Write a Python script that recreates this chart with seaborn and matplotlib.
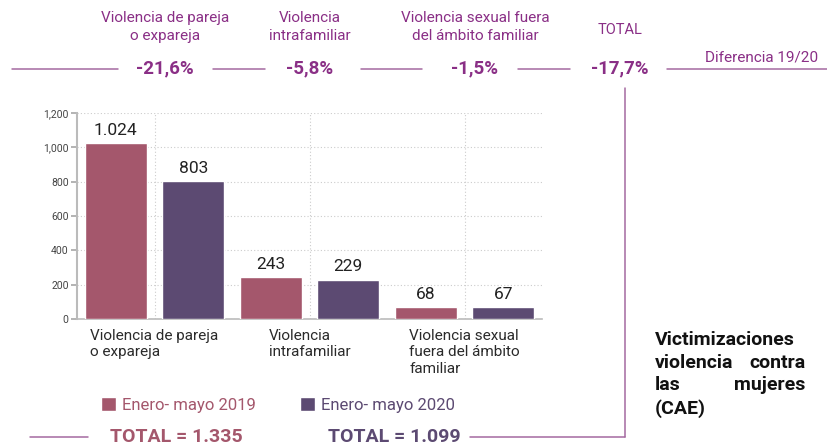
import seaborn as sns
import matplotlib.pyplot as plt
import pandas as pd
from matplotlib.lines import Line2D

# data
categorias = ["Violencia de pareja\no expareja", "Violencia\nintrafamiliar",
              "Violencia sexual\nfuera del ámbito\nfamiliar"]
periodos = ["Enero- mayo 2019", "Enero- mayo 2020"]
valores_2019 = [1024, 243, 68]
valores_2020 = [803, 229, 67]
etiquetas_2019 = ["1.024", "243", "68"]
etiquetas_2020 = ["803", "229", "67"]
cabeceras = ["Violencia de pareja\no expareja", "Violencia\nintrafamiliar",
             "Violencia sexual fuera\ndel ámbito familiar", "TOTAL"]
diferencias = ["-21,6%", "-5,8%", "-1,5%", "-17,7%"]
totales = ["TOTAL = 1.335", "TOTAL = 1.099"]
y_ticks = [0, 200, 400, 600, 800, 1000, 1200]
y_ticklabels = ["0", "200", "400", "600", "800", "1,000", "1,200"]

ROSA = "#a4576c"
MORADO = "#5c4a72"
MAGENTA = "#8a2f86"
LINEA = "#a46aa0"

W, H = 827, 447

sns.set_theme(style="white")
plt.rcParams["font.family"] = ["Roboto", "DejaVu Sans"]

df = pd.DataFrame({
    "categoria": categorias * 2,
    "periodo": [periodos[0]] * 3 + [periodos[1]] * 3,
    "valor": valores_2019 + valores_2020,
})

fig = plt.figure(figsize=(W / 100, H / 100), dpi=100)
ax = fig.add_axes([77 / W, 1 - 319 / H, (542 - 77) / W, (319 - 113) / H])

sns.barplot(data=df, x="categoria", y="valor", hue="periodo",
            palette=[ROSA, MORADO], width=1.0, gap=0.2, ax=ax,
            saturation=1, legend=True, zorder=3)

for cont, labs in zip(ax.containers, [etiquetas_2019, etiquetas_2020]):
    ax.bar_label(cont, labels=labs, padding=4, fontsize=12.5, color="#222222")

ax.set_xlim(-0.5, 2.5)
ax.set_ylim(0, 1200)
ax.set_yticks(y_ticks)
ax.set_yticklabels(y_ticklabels, fontsize=7.5, color="#444444")
ax.set_xlabel("")
ax.set_ylabel("")
ax.tick_params(axis="x", length=4, color="#aaaaaa", labelsize=11, labelcolor="#2a2a2a", pad=3)
ax.tick_params(axis="y", length=4, color="#aaaaaa", pad=2, left=True)
for lab in ax.get_xticklabels():
    lab.set_multialignment("left")
    lab.set_linespacing(1.25)
    lab.set_va("top")
ax.grid(True, axis="both", linestyle=(0, (1, 2)), color="#cccccc", linewidth=0.8, zorder=0)
ax.set_axisbelow(True)
for s in ["top", "right"]:
    ax.spines[s].set_visible(False)
ax.spines["left"].set_color("#bbbbbb")
ax.spines["bottom"].set_color("#bbbbbb")
ax.spines["left"].set_linewidth(1.5)
ax.spines["bottom"].set_linewidth(1.2)

# legend
handles, labels = ax.get_legend_handles_labels()
ax.get_legend().remove()
fig.legend(handles, labels, loc="center", bbox_to_anchor=(278 / W, 1 - 405 / H),
           ncol=2, frameon=False, fontsize=12, labelcolor=[ROSA, MORADO],
           handlelength=0.9, handleheight=0.9, handletextpad=0.4, columnspacing=2.6)


def px(x, y):
    return x / W, 1 - y / H


# header
cab_x = [165, 310, 475, 620]
for cx, txt in zip(cab_x, cabeceras):
    yy = 30 if txt == "TOTAL" else 27
    fig.text(*px(cx, yy), txt, ha="center", va="center", color=MAGENTA,
             fontsize=11 if txt != "TOTAL" else 10.5, linespacing=1.35)
for cx, txt in zip(cab_x, diferencias):
    fig.text(*px(cx, 68), txt, ha="center", va="center", color=MAGENTA,
             fontsize=13.5, fontweight="bold")
fig.text(*px(818, 58), "Diferencia 19/20", ha="right", va="center",
         color=MAGENTA, fontsize=11)

segmentos = [((12, 69), (118, 69)), ((213, 69), (265, 69)), ((361, 69), (422, 69)),
             ((518, 69), (570, 69)), ((667, 69), (827, 69)),
             ((625, 88), (625, 437)), ((625, 437), (470, 437)),
             ((30, 437), (88, 437))]
for (x0, y0), (x1, y1) in segmentos:
    a, b = px(x0, y0)
    c, d = px(x1, y1)
    fig.add_artist(Line2D([a, c], [b, d], color=LINEA, linewidth=1.1))

# totals
fig.text(*px(176, 437), totales[0], ha="center", va="center", color=ROSA,
         fontsize=14, fontweight="bold")
fig.text(*px(394, 437), totales[1], ha="center", va="center", color=MORADO,
         fontsize=14, fontweight="bold")

# side title (justified)
lineas = [["Victimizaciones"], ["violencia", "contra"], ["las", "mujeres"], ["(CAE)"]]
for i, palabras in enumerate(lineas):
    yy = 340 + i * 22.7
    fig.text(*px(655, yy), palabras[0], ha="left", va="center", color="#111111",
             fontsize=14, fontweight="bold")
    if len(palabras) > 1:
        fig.text(*px(805, yy), palabras[-1], ha="right", va="center", color="#111111",
                 fontsize=14, fontweight="bold")

fig.savefig("out.png", dpi=100, facecolor="white")
